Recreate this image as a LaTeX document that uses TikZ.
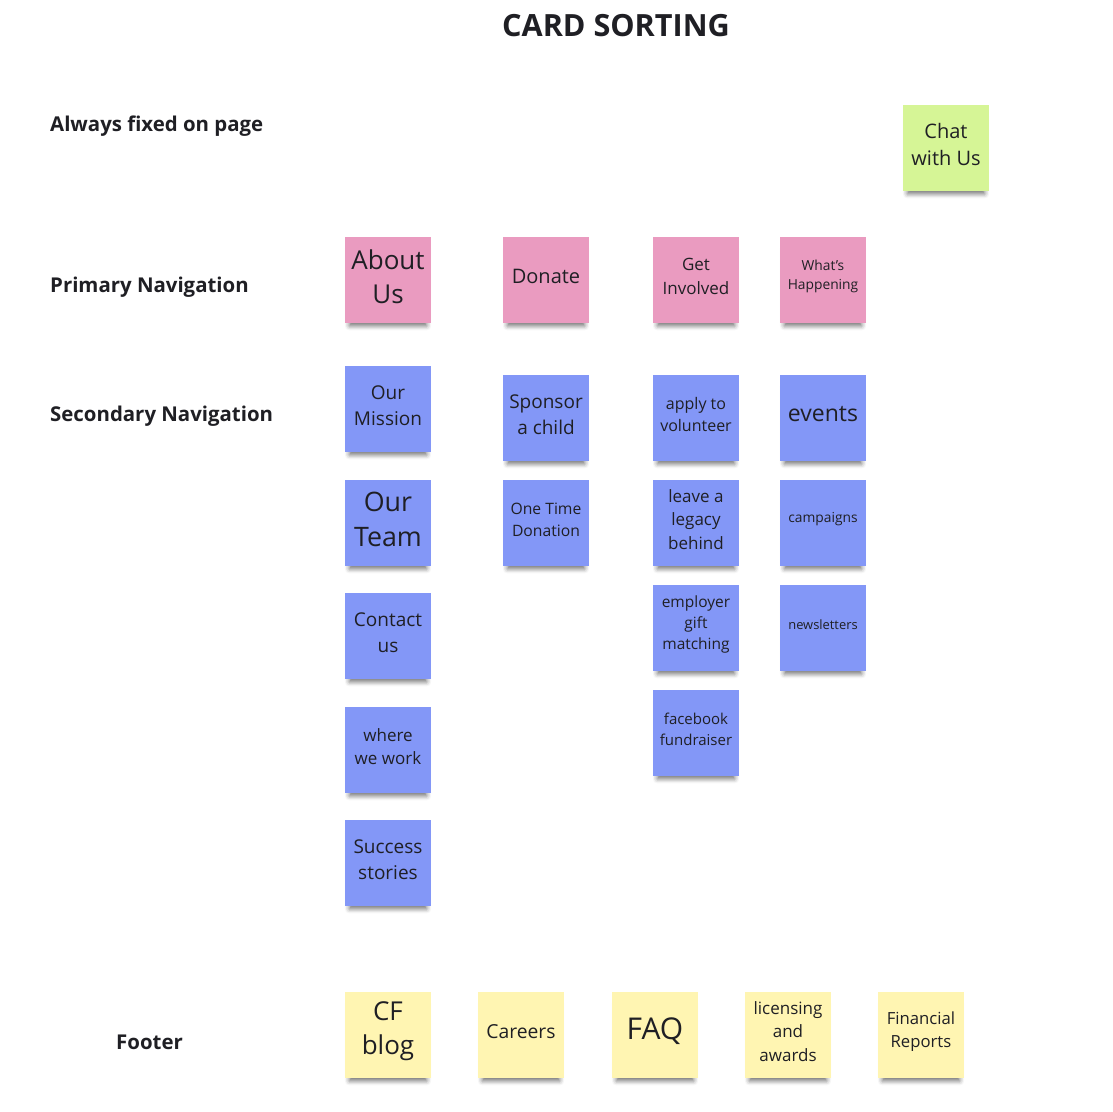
\documentclass[tikz,border=0pt]{standalone}
\usepackage{fontspec}
\setmainfont{Open Sans}
\usetikzlibrary{shadows.blur}
\definecolor{pinknote}{HTML}{EA9BC0}
\definecolor{bluenote}{HTML}{8397F7}
\definecolor{yellownote}{HTML}{FFF5B2}
\definecolor{greennote}{HTML}{D6F596}
\definecolor{ink}{HTML}{1F1F24}
\tikzset{
  note/.style={minimum width=86pt, minimum height=86pt, inner sep=0pt,
    blur shadow={shadow xshift=0pt, shadow yshift=-8pt, shadow scale=0.9, shadow blur radius=5pt, shadow opacity=55}},
  pinkcard/.style={note, fill=pinknote},
  bluecard/.style={note, fill=bluenote},
  yellowcard/.style={note, fill=yellownote},
  greencard/.style={note, fill=greennote},
  notetext/.style={inner sep=0pt, align=center, text=ink},
  rowlabel/.style={anchor=west, inner sep=0pt, font=\fontsize{20.4}{24}\selectfont\bfseries, text=ink},
  fs/.style={/utils/exec={\pgfmathsetmacro\fslead{#1*1.38}}, font=\fontsize{#1}{\fslead}\selectfont}
}
% \card{style}{font size}{name}{position}{text}
\newcommand\card[5]{%
  \node[#1] (#3) at (#4) {};
  \node[notetext, fs=#2] (#3-text) at ([yshift=3.5pt]#3.center) {#5};
}
\begin{document}
\begin{tikzpicture}[x=1pt,y=-1pt]
\useasboundingbox (0,0) rectangle (1112,1112);
\node[inner sep=0pt, font=\fontsize{30.6}{36}\selectfont\bfseries, text=ink] (title) at (616,26) {CARD SORTING};
\node[rowlabel] (l1) at (50,126) {Always fixed on page};
\node[rowlabel] (l2) at (50,287) {Primary Navigation};
\node[rowlabel] (l3) at (50,416) {Secondary Navigation};
\node[rowlabel] (l4) at (116,1042) {Footer};
% fixed
\card{greencard}{20}{chat}{946,148}{Chat\\with Us}
% primary
\card{pinkcard}{26}{about}{388,280}{About\\[-2pt]Us}
\card{pinkcard}{20}{donate}{546,280}{Donate}
\card{pinkcard}{17}{involved}{696,280}{Get\\Involved}
\card{pinkcard}{13.8}{happening}{823,280}{What's\\Happening}
% secondary
\card{bluecard}{19}{mission}{388,409}{Our\\Mission}
\card{bluecard}{26.8}{team}{388,523}{Our\\[-2pt]Team}
\card{bluecard}{19}{contact}{388,636}{Contact\\us}
\card{bluecard}{17}{where}{388,750}{where\\we work}
\card{bluecard}{19}{success}{388,863}{Success\\stories}
\card{bluecard}{19}{sponsor}{546,418}{Sponsor\\a child}
\card{bluecard}{15.7}{onetime}{546,523}{One Time\\Donation}
\card{bluecard}{16}{apply}{696,418}{apply to\\volunteer}
\card{bluecard}{17}{legacy}{696,523}{leave a\\legacy\\behind}
\card{bluecard}{15.5}{employer}{696,628}{employer\\gift\\matching}
\card{bluecard}{15}{facebook}{696,733}{facebook\\fundraiser}
\card{bluecard}{23}{events}{823,418}{events}
\card{bluecard}{13.8}{campaigns}{823,523}{campaigns}
\card{bluecard}{12.9}{newsletters}{823,628}{newsletters}
% footer
\card{yellowcard}{26}{blog}{388,1035}{CF\\[-2pt]blog}
\card{yellowcard}{19.3}{careers}{521,1035}{Careers}
\card{yellowcard}{30}{faq}{655,1035}{FAQ}
\card{yellowcard}{17}{licensing}{788,1035}{licensing\\and\\awards}
\card{yellowcard}{16.7}{financial}{921,1035}{Financial\\Reports}
\end{tikzpicture}
\end{document}
